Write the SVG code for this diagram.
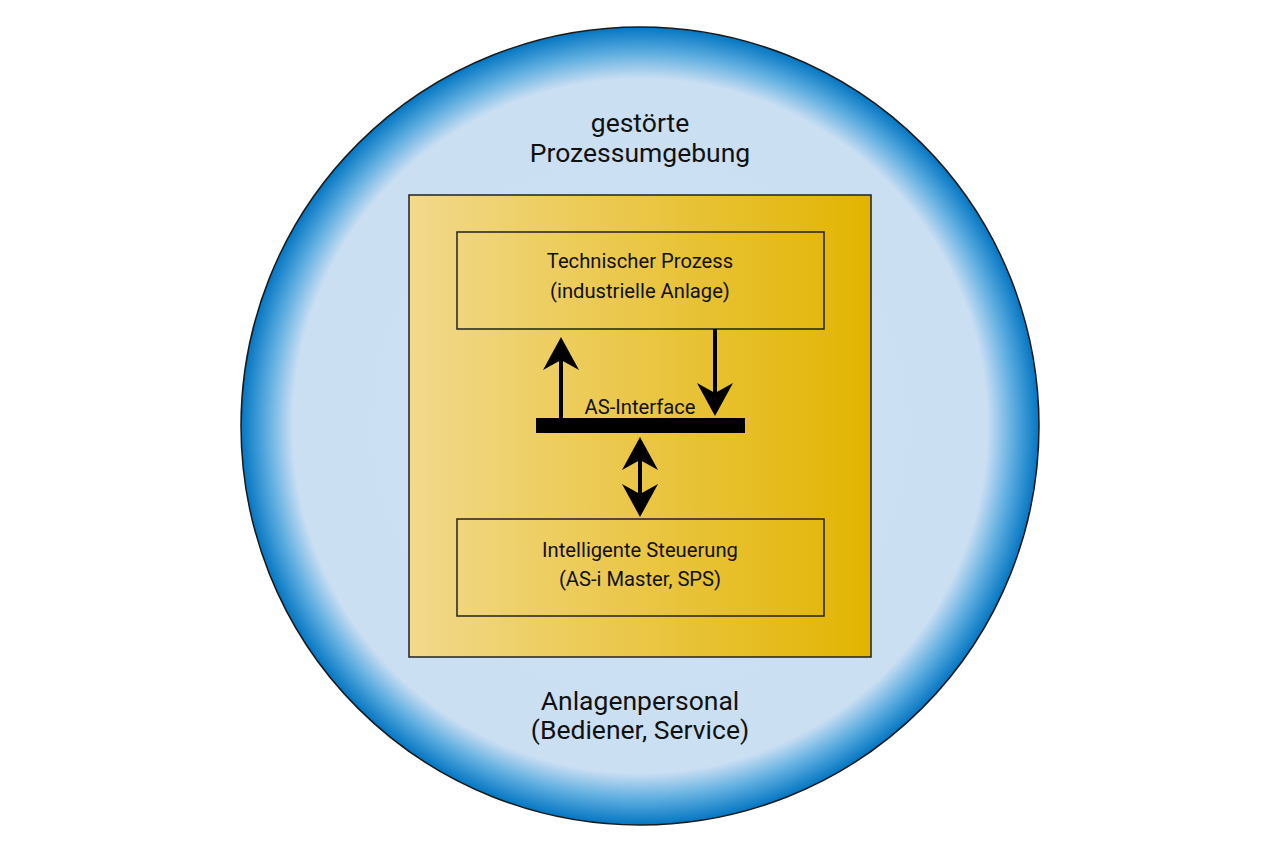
<svg xmlns="http://www.w3.org/2000/svg" width="1280" height="853" viewBox="0 0 1280 853">
  <defs>
    <radialGradient id="blueGrad" cx="640" cy="426" r="399" gradientUnits="userSpaceOnUse">
      <stop offset="0" stop-color="#cde0f4"/>
      <stop offset="0.87" stop-color="#cbdff3"/>
      <stop offset="0.935" stop-color="#5eaee0"/>
      <stop offset="1" stop-color="#0476c2"/>
    </radialGradient>
    <linearGradient id="goldGrad" x1="0" y1="0" x2="1" y2="0">
      <stop offset="0" stop-color="#f2d98c"/>
      <stop offset="1" stop-color="#e2b400"/>
    </linearGradient>
    <marker id="head" viewBox="-1 -19 35 38" refX="10" refY="0" markerWidth="35" markerHeight="38" markerUnits="userSpaceOnUse" orient="auto-start-reverse">
      <path d="M0,-18 L33,0 L0,18 L10,0 Z" fill="#000"/>
    </marker>
    <style>
      .lbl { font-family: Roboto, "Liberation Sans", sans-serif; fill: #111; text-anchor: middle; }
      .big { font-size: 26.5px; }
      .mid { font-size: 20.2px; }
      .box { fill: none; stroke: #222; stroke-width: 1.5; }
      .conn { stroke: #000; stroke-width: 4; fill: none; }
    </style>
  </defs>
  <rect width="1280" height="853" fill="#fff"/>
  <g id="environment">
    <circle cx="640" cy="426" r="399" fill="url(#blueGrad)" stroke="#1a1a1a" stroke-width="1.5"/>
    <text class="lbl big" x="640" y="132">gestörte</text>
    <text class="lbl big" x="640" y="162">Prozessumgebung</text>
    <text class="lbl big" x="640" y="710">Anlagenpersonal</text>
    <text class="lbl big" x="640" y="739">(Bediener, Service)</text>
  </g>
  <g id="system">
    <rect x="409" y="195" width="462" height="462" fill="url(#goldGrad)" stroke="#222" stroke-width="1.5"/>
  </g>
  <g id="process">
    <rect class="box" x="457" y="232" width="367" height="97"/>
    <text class="lbl mid" x="640" y="268">Technischer Prozess</text>
    <text class="lbl mid" x="640" y="298">(industrielle Anlage)</text>
  </g>
  <g id="control">
    <rect class="box" x="457" y="519" width="367" height="97"/>
    <text class="lbl mid" x="640" y="557">Intelligente Steuerung</text>
    <text class="lbl mid" x="640" y="586">(AS-i Master, SPS)</text>
  </g>
  <g id="asinterface">
    <rect x="536" y="418" width="209" height="15" fill="#000"/>
    <text class="lbl mid" x="640" y="414">AS-Interface</text>
  </g>
  <g id="connectors">
    <line class="conn" x1="561" y1="419" x2="561" y2="360" marker-end="url(#head)"/>
    <line class="conn" x1="715" y1="329" x2="715" y2="393" marker-end="url(#head)"/>
    <line class="conn" x1="640" y1="460" x2="640" y2="494" marker-start="url(#head)" marker-end="url(#head)"/>
  </g>
</svg>
